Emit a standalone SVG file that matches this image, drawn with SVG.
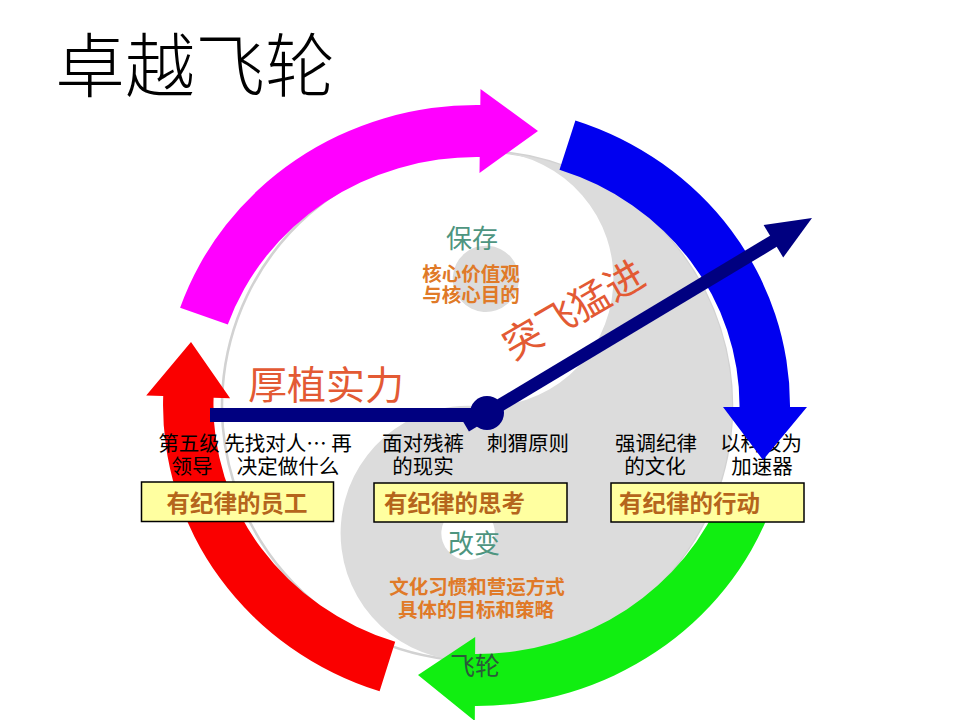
<svg xmlns="http://www.w3.org/2000/svg" width="960" height="720" viewBox="0 0 960 720">
<style>
text{font-family:"Noto Sans CJK SC","Noto Sans CJK JP",sans-serif}
.blk{font-size:20.5px;fill:#000;text-anchor:middle}
.org{font-size:19.5px;fill:#e07a28;font-weight:bold;text-anchor:middle}
.teal{font-size:26px;fill:#4e957f;text-anchor:middle}
.big{font-size:39px;fill:#e35a34}
.box{fill:#ffffa0;stroke:#000;stroke-width:1.5}
.bt{font-size:23.5px;font-weight:bold;fill:#b5651c}
.nv{fill:#000080}
.nvs{stroke:#000080;fill:none}
</style>
<rect width="960" height="720" fill="#fff"/>
<g id="title"><text x="55" y="92" font-size="70" font-weight="300" fill="#000">卓越飞轮</text></g>
<g id="taiji" transform="translate(477,406) rotate(4) scale(2.55)">
<circle r="100" fill="#fff" stroke="#d2d2d2" stroke-width="1"/>
<path d="M0,-100 A100,100 0 0 1 0,100 A50,50 0 0 1 0,0 A50,50 0 0 0 0,-100 Z" fill="#dcdcdc"/>
<circle cx="0" cy="-50" r="13" fill="#dcdcdc"/>
<circle cx="0" cy="50" r="10.5" fill="#fff"/>
</g>
<g id="arrow-red"><path d="M395.2,641.8 L379.6,691.3 A313.5,300.5 0 0 1 163.2,396.1 L146.2,395.6 L191,342 L230.1,398.2 L213.6,397.7 A263,248.5 0 0 0 395.2,641.8 Z" fill="#fa0000"/></g>
<g id="arrow-magenta"><path d="M227.8,324.6 L180.1,307.7 A313.5,300.5 0 0 1 480.3,105 L480.5,89 L538,131 L479.5,173 L479.7,157 A263,248.5 0 0 0 227.8,324.6 Z" fill="#ff00ff"/></g>
<g id="arrow-green"><path d="M723.6,490.5 L771.1,508.3 A313.5,300.5 0 0 1 474.9,706 L474.8,721 L418,675 L475.2,637 L475.1,654 A263,248.5 0 0 0 723.6,490.5 Z" fill="#11ee11"/></g>
<g id="labels-people">
<text class="blk" x="189" y="450.5">第五级</text>
<text class="blk" x="192" y="473.5">领导</text>
<text class="blk" x="288" y="450.5">先找对人… 再</text>
<text class="blk" x="288" y="473.5">决定做什么</text>
</g>
<g id="labels-thought">
<text class="blk" x="423" y="450.5">面对残裤</text>
<text class="blk" x="423" y="473.5">的现实</text>
<text class="blk" x="528" y="450.5">刺猬原则</text>
</g>
<g id="labels-action">
<text class="blk" x="656" y="450.5">强调纪律</text>
<text class="blk" x="655" y="473.5">的文化</text>
<text class="blk" x="761" y="450.5">以科技为</text>
<text class="blk" x="762" y="473.5">加速器</text>
</g>
<g id="box-people"><rect class="box" x="141.5" y="482" width="192" height="39.5"/><text class="bt" x="237" y="511.5" text-anchor="middle">有纪律的员工</text></g>
<g id="box-thought"><rect class="box" x="374" y="483" width="193" height="39"/><text class="bt" x="384" y="511.5">有纪律的思考</text></g>
<g id="box-action"><rect class="box" x="611" y="483" width="193" height="39"/><text class="bt" x="619" y="511.5">有纪律的行动</text></g>
<g id="arrow-blue"><path d="M559.5,169.7 L575.4,120.4 A313.5,300.5 0 0 1 790,407 L807,407 L763,460 L723,407 L739.5,407 A263,248.5 0 0 0 559.5,169.7 Z" fill="#0000f0"/></g>
<g id="connectors">
<line class="nvs" x1="210" y1="415" x2="487" y2="415" stroke-width="14"/>
<line class="nvs" x1="465.6" y1="425.9" x2="775" y2="240.3" stroke-width="13"/>
<polygon class="nv" points="812,218 763.6,224.9 783.2,257.5"/>
<circle class="nv" cx="487" cy="413" r="17"/>
</g>
<g id="preserve">
<text class="teal" x="472" y="248">保存</text>
<text class="org" x="471" y="280.5">核心价值观</text>
<text class="org" x="471" y="301.5">与核心目的</text>
</g>
<g id="breakthrough"><text class="big" font-size="41" text-anchor="middle" transform="translate(573,309) rotate(-30)" x="0" y="15">突飞猛进</text></g>
<g id="buildup"><text class="big" x="248" y="399">厚植实力</text></g>
<g id="change">
<text class="teal" x="474" y="553">改变</text>
<text class="org" x="477" y="594" font-size="20">文化习惯和营运方式</text>
<text class="org" x="476" y="617" font-size="20">具体的目标和策略</text>
</g>
<g id="flywheel"><text x="475" y="675" font-size="25" fill="#2a5a3a" text-anchor="middle">飞轮</text></g>
</svg>
